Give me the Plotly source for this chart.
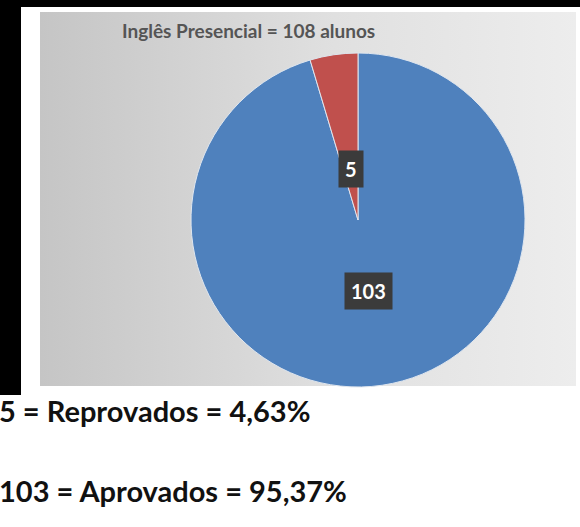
import math
import plotly.graph_objects as go

# Course results
course_title = "Inglês Presencial"
categories = ["Aprovados", "Reprovados"]
counts = [103, 5]
colors = ["#4F81BD", "#C0504D"]

W, H = 580, 527
total = sum(counts)
pct = [c / total * 100 for c in counts]

def fmt_pct(v):
    return f"{v:.2f}".replace(".", ",") + "%"

# pie geometry (pixels)
cx, cy, r = 358, 220, 167

fig = go.Figure()

# gray chart panel with a soft gradient
fig.add_trace(go.Scatter(
    x=[40, 576, 576, 40, 40], y=[12, 12, 386, 386, 12],
    mode="lines", fill="toself", line=dict(width=0),
    fillgradient=dict(type="horizontal",
                      colorscale=[[0, "#c5c5c5"], [0.55, "#e0e0e0"], [1, "#ededed"]]),
    hoverinfo="skip", showlegend=False,
))

fig.add_trace(go.Pie(
    labels=categories, values=counts, sort=False, direction="clockwise", rotation=0,
    marker=dict(colors=colors, line=dict(color="#dfe6ef", width=1)),
    textinfo="none", hoverinfo="label+value", showlegend=False,
    domain=dict(x=[(cx - r) / W, (cx + r) / W], y=[1 - (cy + r) / H, 1 - (cy - r) / H]),
))

# value labels in dark boxes, placed along each slice's mid-angle
label_radius = [0.43, 0.31]
cum = 0
annotations = []
for val, fr in zip(counts, label_radius):
    mid = (cum + val / 2) / total * 2 * math.pi
    cum += val
    lx = cx + fr * r * math.sin(mid)
    ly = cy - fr * r * math.cos(mid)
    annotations.append(dict(
        x=lx, y=ly, xref="x", yref="y", text=f"<b>{val}</b>", showarrow=False,
        font=dict(family="Lato", size=20, color="white"),
        bgcolor="#3b3b3b", borderpad=6,
    ))

annotations.append(dict(
    x=248, y=30, xref="x", yref="y", showarrow=False,
    text=f"<b>{course_title} = {total} alunos</b>",
    font=dict(family="Lato", size=19, color="#555555"),
))

# summary lines under the chart
for i, yy in zip([1, 0], [410, 490]):
    annotations.append(dict(
        x=0, y=yy, xref="paper", yref="y", xanchor="left", xshift=-3, showarrow=False,
        text=f"<b>{counts[i]} = {categories[i]} = {fmt_pct(pct[i])}</b>",
        font=dict(family="Lato", size=29, color="#111111"),
    ))

shapes = [
    dict(type="rect", xref="x", yref="y", x0=21, y0=7, x1=580, y1=527,
         fillcolor="white", line=dict(width=0), layer="below"),
    dict(type="rect", xref="x", yref="y", x0=0, y0=395, x1=21, y1=527,
         fillcolor="white", line=dict(width=0), layer="below"),
]

fig.update_layout(
    width=W, height=H, margin=dict(l=0, r=0, t=0, b=0),
    paper_bgcolor="black", plot_bgcolor="rgba(0,0,0,0)",
    xaxis=dict(range=[0, W], visible=False, fixedrange=True),
    yaxis=dict(range=[H, 0], visible=False, fixedrange=True),
    shapes=shapes, annotations=annotations,
)

fig.write_html("out.html")
